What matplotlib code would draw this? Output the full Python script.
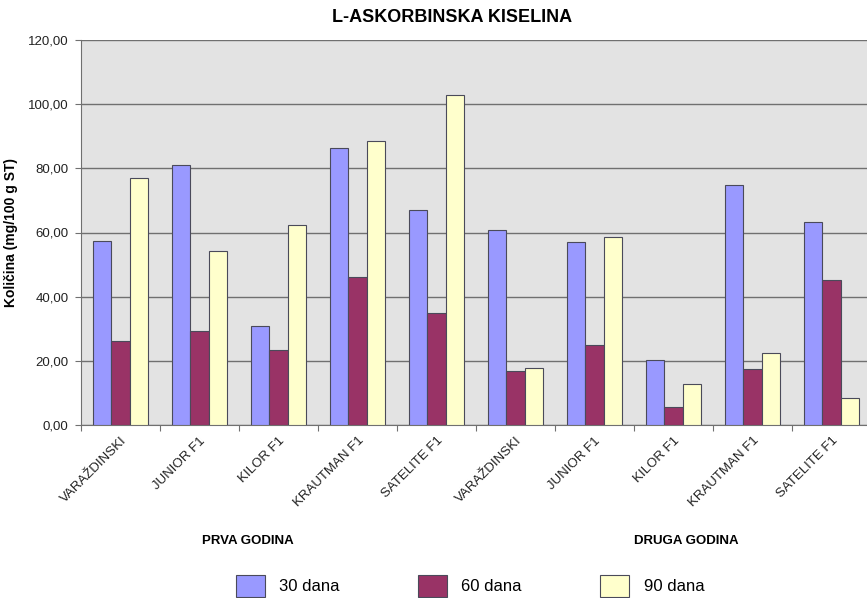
import matplotlib
matplotlib.use("Agg")
import matplotlib.pyplot as plt
import numpy as np
from matplotlib.patches import Patch

plt.rcParams['font.family'] = ['Liberation Sans', 'DejaVu Sans']

categories = ["VARAŽDINSKI", "JUNIOR F1", "KILOR F1", "KRAUTMAN F1", "SATELITE F1",
              "VARAŽDINSKI", "JUNIOR F1", "KILOR F1", "KRAUTMAN F1", "SATELITE F1"]
d30 = [57.3, 81.0, 30.8, 86.3, 67.0, 60.7, 57.0, 20.2, 74.8, 63.2]
d60 = [26.2, 29.3, 23.4, 46.1, 34.9, 16.8, 24.9, 5.6, 17.4, 45.2]
d90 = [77.0, 54.2, 62.3, 88.5, 103.0, 17.8, 58.6, 12.8, 22.4, 8.4]
series_names = ["30 dana", "60 dana", "90 dana"]
colors = ["#9999FF", "#993366", "#FFFFCC"]
year_labels = ["PRVA GODINA", "DRUGA GODINA"]
yticks = [0, 20, 40, 60, 80, 100, 120]

fig = plt.figure(figsize=(8.67, 5.98), dpi=100)
ax = fig.add_axes([81/867, 1-425/598, 790/867, 385/598])
ax.set_facecolor("#E3E3E3")

x = np.arange(len(categories))
w = 0.23
for i, (vals, c) in enumerate(zip([d30, d60, d90], colors)):
    ax.bar(x + (i - 1) * w, vals, width=w, color=c, edgecolor="#4a4a5a", linewidth=0.8, zorder=3)

ax.set_xlim(-0.5, len(categories) - 0.5)
ax.set_ylim(0, 120)
ax.set_yticks(yticks)
ax.set_yticklabels([f"{v:.2f}".replace(".", ",") for v in yticks], fontsize=9.5, color="#222222")
ax.yaxis.grid(True, color="#707070", linewidth=1.0, zorder=1)
ax.set_axisbelow(True)

ax.set_xticks(np.arange(len(categories) + 1) - 0.5)
ax.set_xticklabels([])
ax.set_xticks(x, minor=True)
ax.set_xticklabels(categories, minor=True, rotation=45, ha="right", rotation_mode="anchor",
                   fontsize=9.5, color="#222222")
ax.tick_params(axis="x", which="minor", length=0, pad=7)
ax.tick_params(axis="x", which="major", length=4, color="#707070", direction="out")
ax.tick_params(axis="y", length=4, color="#707070", direction="out", pad=5)

for s in ["top", "right"]:
    ax.spines[s].set_visible(False)
ax.spines["left"].set_color("#707070")
ax.spines["bottom"].set_color("#707070")

ax.set_ylabel("Količina (mg/100 g ST)", fontsize=10, fontweight="bold", labelpad=10)
ax.yaxis.set_label_coords(-63/790, 0.5)

fig.text(452/867, 1-18/598, "L-ASKORBINSKA KISELINA", ha="center", va="center",
         fontsize=13, fontweight="bold")
fig.text(248/867, 1-541/598, year_labels[0], ha="center", va="center", fontsize=9.5, fontweight="bold")
fig.text(686/867, 1-541/598, year_labels[1], ha="center", va="center", fontsize=9.5, fontweight="bold")

handles = [Patch(facecolor=c, edgecolor="#4a4a5a", linewidth=0.8) for c in colors]
fig.legend(handles, series_names, loc="center", bbox_to_anchor=(470/867, 1-586/598), ncol=3,
           frameon=False, fontsize=12, handlelength=1.75, handleheight=1.6,
           columnspacing=4.7, handletextpad=0.85, borderpad=0.1)

fig.savefig("out.png", dpi=100)
